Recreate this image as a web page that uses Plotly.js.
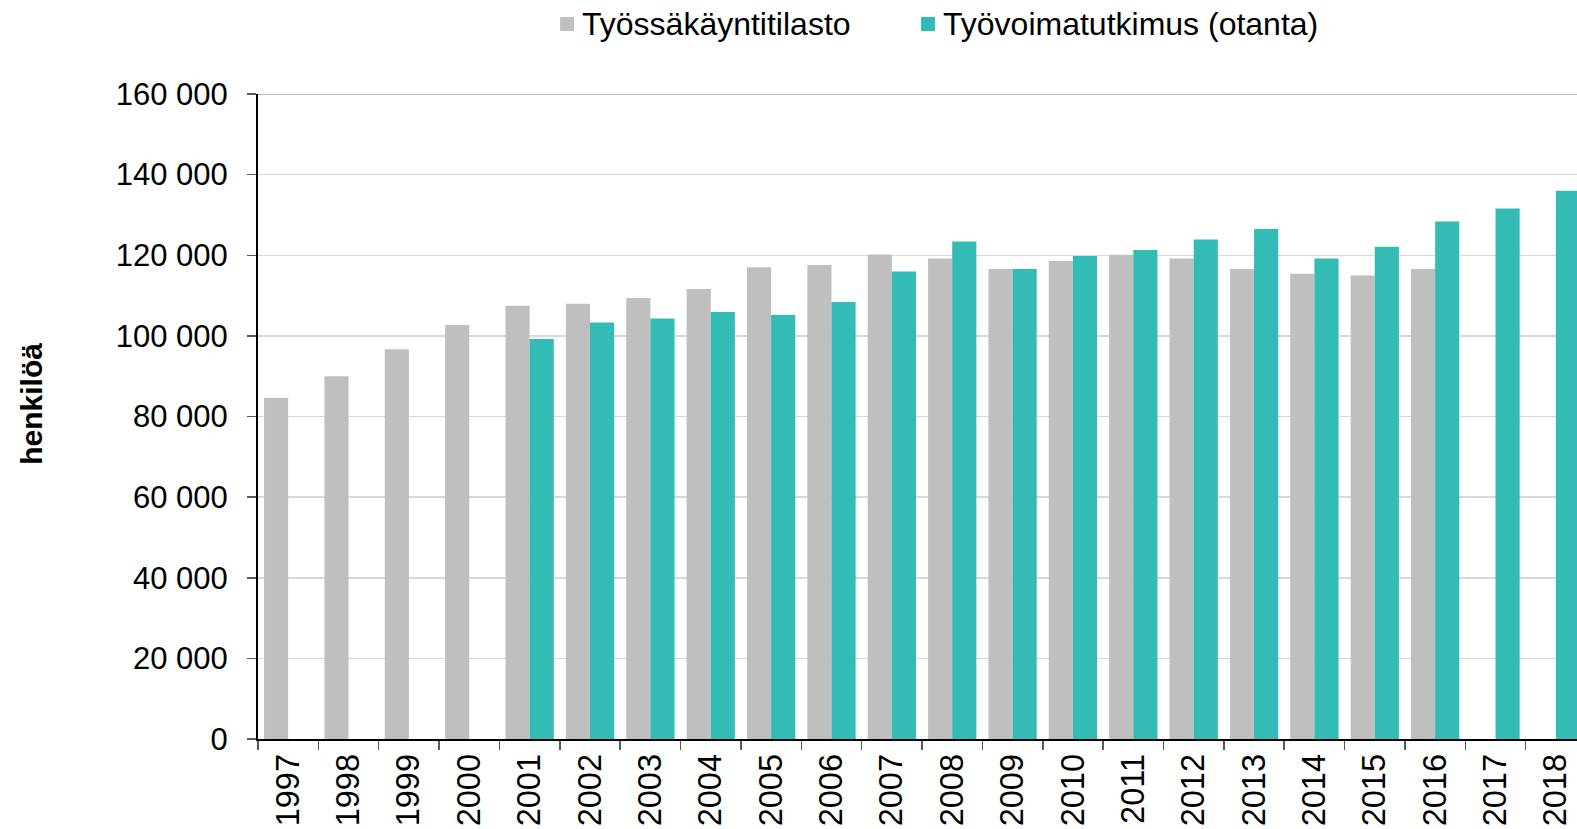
<!DOCTYPE html>
<html>
<head>
<meta charset="utf-8">
<script src="https://cdn.plot.ly/plotly-3.0.1.min.js"></script>
<style>
html,body{margin:0;padding:0;overflow:hidden;background:#fff;}
#chart{width:1577px;height:829px;}
</style>
</head>
<body>
<div id="chart"></div>
<script>
const years = ["1997","1998","1999","2000","2001","2002","2003","2004","2005","2006","2007",
               "2008","2009","2010","2011","2012","2013","2014","2015","2016","2017","2018"];
const tyossakayntitilasto = [84600, 90000, 96700, 102700, 107500, 108000, 109400, 111600, 117000, 117600, 120200,
                             119200, 116600, 118600, 120100, 119200, 116600, 115400, 115000, 116600, null, null];
const tyovoimatutkimus = [null, null, null, null, 99200, 103300, 104300, 105900, 105200, 108400, 116000,
                          123400, 116600, 119800, 121300, 123900, 126500, 119200, 122100, 128400, 131600, 136000];
const seriesNames = ["Työssäkäyntitilasto", "Työvoimatutkimus (otanta)"];
const seriesColors = ["#BFBFBF", "#33BBB5"];
const yTicks = [0, 20000, 40000, 60000, 80000, 100000, 120000, 140000, 160000];

const font = "Liberation Sans, Arial, sans-serif";

const traces = [
  {type:"bar", x: years, y: tyossakayntitilasto, name: seriesNames[0],
   marker:{color:seriesColors[0], line:{width:0}}},
  {type:"bar", x: years, y: tyovoimatutkimus, name: seriesNames[1],
   marker:{color:seriesColors[1], line:{width:0}}}
];

// manual legend (square swatch + label), positioned in paper coordinates
const legendX = [0.2290, 0.5027];
const swW = 0.0106, swY0 = 1.0977, swY1 = 1.1194, labelGap = 0.0045;
const legendShapes = legendX.map((x, i) => ({
  type:"rect", xref:"paper", yref:"paper", x0:x, x1:x+swW, y0:swY0, y1:swY1,
  fillcolor:seriesColors[i], line:{width:0}
}));
const legendLabels = legendX.map((x, i) => ({
  text:seriesNames[i], xref:"paper", yref:"paper", x:x+swW+labelGap, y:(swY0+swY1)/2,
  xanchor:"left", yanchor:"middle", showarrow:false,
  font:{family:font, size:32, color:"#000"}
}));

const layout = {
  width:1577, height:829,
  margin:{l:258, r:0, t:94, b:90},
  paper_bgcolor:"#fff", plot_bgcolor:"#fff",
  separators:". ",
  barmode:"group", bargap:0.2, bargroupgap:0,
  showlegend:false,
  xaxis:{type:"category", range:[-0.5, 21.35], tickangle:-90, tickson:"boundaries",
         ticks:"outside", ticklen:9, tickcolor:"#595959", tickwidth:1.5,
         showline:true, linecolor:"#000", linewidth:2, showgrid:false,
         tickfont:{family:font, size:32.5, color:"#000"}, fixedrange:true},
  yaxis:{range:[0,160000], tickvals:yTicks, tickformat:",d",
         ticks:"outside", ticklen:9, tickcolor:"#595959", tickwidth:1.5,
         ticklabelstandoff:13,
         showline:true, linecolor:"#000", linewidth:2,
         showgrid:true, gridcolor:"#D9D9D9", gridwidth:1.5, zeroline:false,
         tickfont:{family:font, size:31, color:"#000"}, fixedrange:true},
  shapes:[{type:"line", xref:"paper", yref:"y", x0:0, x1:1, y0:160000, y1:160000,
           line:{color:"#A6A6A6", width:1.5}}].concat(legendShapes),
  annotations:[{text:"<b>henkilöä</b>", textangle:-90, xref:"paper", yref:"paper",
                x:-0.172, y:0.52, xanchor:"center", yanchor:"middle", showarrow:false,
                font:{family:font, size:30, color:"#000"}}].concat(legendLabels)
};

Plotly.newPlot("chart", traces, layout, {displayModeBar:false, staticPlot:true});
</script>
</body>
</html>
